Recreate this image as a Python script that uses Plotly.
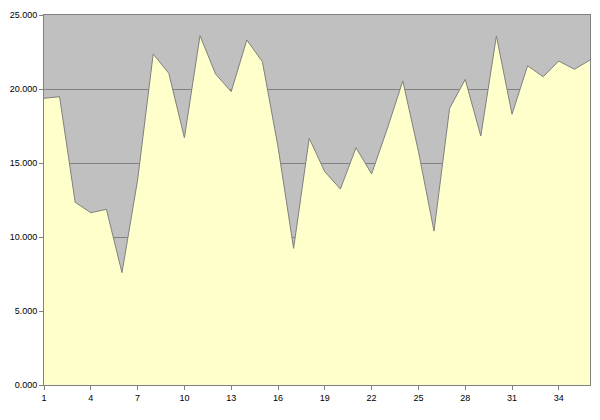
import plotly.graph_objects as go

# series values, one per category 1..36
x_vals = list(range(1, 37))
y_vals = [19.37, 19.48, 12.34, 11.64, 11.87, 7.59, 13.85, 22.36, 21.06, 16.71,
          23.60, 21.01, 19.82, 23.31, 21.84, 16.10, 9.23, 16.67, 14.41, 13.24,
          16.03, 14.26, 17.30, 20.54, 15.80, 10.40, 18.69, 20.65, 16.82, 23.58,
          18.29, 21.57, 20.83, 21.89, 21.33, 21.96]

x_ticks = [1, 4, 7, 10, 13, 16, 19, 22, 25, 28, 31, 34]
y_ticks = [0, 5, 10, 15, 20, 25]

fig = go.Figure()
fig.add_scatter(
    x=x_vals,
    y=y_vals,
    mode="lines",
    fill="tozeroy",
    fillcolor="#FFFFCC",
    line=dict(color="#808080", width=1),
    showlegend=False,
)

# page body has an 8px margin, so the figure is shrunk to fit the window
fig.update_layout(
    width=592, height=412,
    margin=dict(l=36, r=10, t=7, b=35),
    paper_bgcolor="white",
    plot_bgcolor="#C0C0C0",
    font=dict(family="Liberation Sans, Arial", size=9, color="black"),
    xaxis=dict(
        range=[1, 36],
        tickvals=x_ticks,
        automargin=False,
        showgrid=False,
        zeroline=False,
        showline=True, linecolor="#808080", linewidth=1, mirror=True,
        ticks="outside", ticklen=4, tickcolor="#808080",
    ),
    yaxis=dict(
        range=[0, 25],
        tickvals=y_ticks,
        tickformat=".3f",
        automargin=False,
        showgrid=True, gridcolor="#808080", gridwidth=1,
        zeroline=False,
        showline=True, linecolor="#808080", linewidth=1, mirror=True,
        ticks="outside", ticklen=4, tickcolor="#808080",
    ),
)

fig.write_html("out.html")
